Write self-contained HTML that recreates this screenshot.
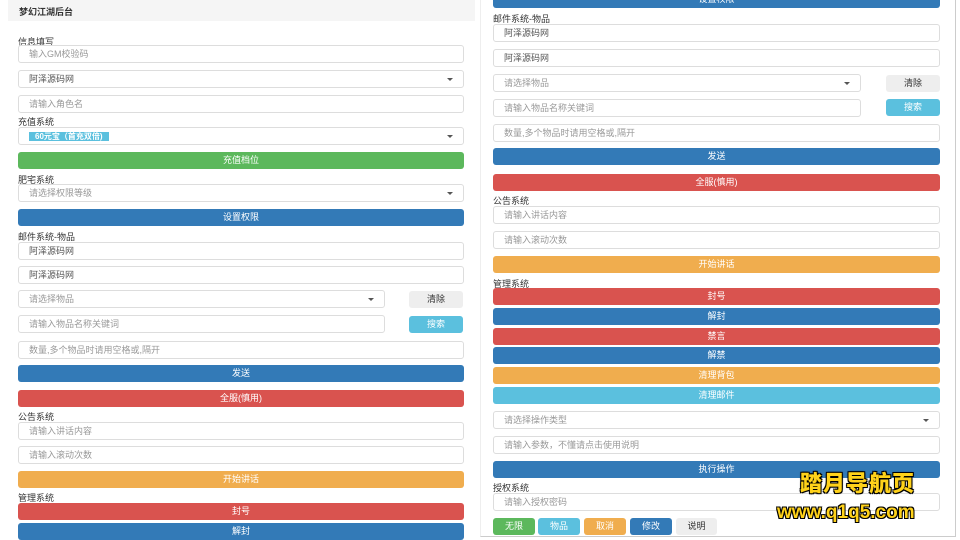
<!DOCTYPE html>
<html><head><meta charset="utf-8"><style>
body{margin:0;width:960px;height:540px;overflow:hidden;background:#fff;font-family:"Liberation Sans","Noto Sans CJK SC",sans-serif;position:relative}
.a{position:absolute;box-sizing:border-box}
.in{border:1px solid #ddd;border-radius:3px;height:18px;font-size:9px;color:#999;padding-left:10px;line-height:16px;background:#fff}
.in.v{color:#555}
.sel:after{content:"";position:absolute;right:10px;top:7px;border:3px solid transparent;border-top:3px solid #555}
.lb{font-size:9px;color:#333;height:12px;line-height:12px}
.b{height:17px;border-radius:3px;color:#fff;font-size:9px;text-align:center;line-height:17px}
.g{background:#5cb85c}.bl{background:#337ab7}.r{background:#d9534f}.o{background:#f0ad4e}.c{background:#5bc0de}.gr{background:#eee;color:#333}
</style></head><body>
<div class="a" style="left:8px;top:0;width:467px;height:21px;background:#f5f5f5;font-size:9px;font-weight:bold;color:#333;padding-left:11px;line-height:24px">梦幻江湖后台</div>

<div class="a lb" style="left:18px;top:36px">信息填写</div>
<div class="a in" style="left:18px;top:45px;width:446px">输入GM校验码</div>
<div class="a in v sel" style="left:18px;top:70px;width:446px">阿泽源码网</div>
<div class="a in" style="left:18px;top:95px;width:446px">请输入角色名</div>
<div class="a lb" style="left:18px;top:116px">充值系统</div>
<div class="a in sel" style="left:18px;top:127px;width:446px"><span style="background:#5bc0de;color:#fff;padding:0 6px;font-size:8px;font-weight:bold">60元宝（首充双倍)</span></div>
<div class="a b g" style="left:18px;top:152px;width:446px">充值档位</div>
<div class="a lb" style="left:18px;top:174px">肥宅系统</div>
<div class="a in sel" style="left:18px;top:184px;width:446px">请选择权限等级</div>
<div class="a b bl" style="left:18px;top:209px;width:446px">设置权限</div>
<div class="a lb" style="left:18px;top:231px">邮件系统-物品</div>
<div class="a in v" style="left:18px;top:242px;width:446px">阿泽源码网</div>
<div class="a in v" style="left:18px;top:266px;width:446px">阿泽源码网</div>
<div class="a in sel" style="left:18px;top:290px;width:367px">请选择物品</div>
<div class="a b gr" style="left:409px;top:291px;width:54px">清除</div>
<div class="a in" style="left:18px;top:315px;width:367px">请输入物品名称关键词</div>
<div class="a b c" style="left:409px;top:316px;width:54px">搜索</div>
<div class="a in" style="left:18px;top:341px;width:446px">数量,多个物品时请用空格或,隔开</div>
<div class="a b bl" style="left:18px;top:365px;width:446px">发送</div>
<div class="a b r" style="left:18px;top:390px;width:446px">全服(慎用)</div>
<div class="a lb" style="left:18px;top:411px">公告系统</div>
<div class="a in" style="left:18px;top:422px;width:446px">请输入讲话内容</div>
<div class="a in" style="left:18px;top:446px;width:446px">请输入滚动次数</div>
<div class="a b o" style="left:18px;top:471px;width:446px">开始讲话</div>
<div class="a lb" style="left:18px;top:492px">管理系统</div>
<div class="a b r" style="left:18px;top:503px;width:446px">封号</div>
<div class="a b bl" style="left:18px;top:523px;width:446px">解封</div>

<div class="a" style="left:480px;top:0;width:476px;height:537px;border-right:1px solid #ccc;border-bottom:1px solid #ccc;border-left:1px solid #eee"></div>
<div class="a b bl" style="left:493px;top:-9px;width:447px">设置权限</div>
<div class="a lb" style="left:493px;top:13px">邮件系统-物品</div>
<div class="a in v" style="left:493px;top:24px;width:447px">阿泽源码网</div>
<div class="a in v" style="left:493px;top:49px;width:447px">阿泽源码网</div>
<div class="a in sel" style="left:493px;top:74px;width:368px">请选择物品</div>
<div class="a b gr" style="left:886px;top:75px;width:54px">清除</div>
<div class="a in" style="left:493px;top:99px;width:368px">请输入物品名称关键词</div>
<div class="a b c" style="left:886px;top:99px;width:54px">搜索</div>
<div class="a in" style="left:493px;top:124px;width:447px">数量,多个物品时请用空格或,隔开</div>
<div class="a b bl" style="left:493px;top:148px;width:447px">发送</div>
<div class="a b r" style="left:493px;top:174px;width:447px">全服(慎用)</div>
<div class="a lb" style="left:493px;top:195px">公告系统</div>
<div class="a in" style="left:493px;top:206px;width:447px">请输入讲话内容</div>
<div class="a in" style="left:493px;top:231px;width:447px">请输入滚动次数</div>
<div class="a b o" style="left:493px;top:256px;width:447px">开始讲话</div>
<div class="a lb" style="left:493px;top:278px">管理系统</div>
<div class="a b r" style="left:493px;top:288px;width:447px">封号</div>
<div class="a b bl" style="left:493px;top:308px;width:447px">解封</div>
<div class="a b r" style="left:493px;top:328px;width:447px">禁言</div>
<div class="a b bl" style="left:493px;top:347px;width:447px">解禁</div>
<div class="a b o" style="left:493px;top:367px;width:447px">清理背包</div>
<div class="a b c" style="left:493px;top:387px;width:447px">清理邮件</div>
<div class="a in sel" style="left:493px;top:411px;width:447px">请选择操作类型</div>
<div class="a in" style="left:493px;top:436px;width:447px">请输入参数，不懂请点击使用说明</div>
<div class="a b bl" style="left:493px;top:461px;width:447px">执行操作</div>
<div class="a lb" style="left:493px;top:482px">授权系统</div>
<div class="a in" style="left:493px;top:493px;width:447px">请输入授权密码</div>
<div class="a b g" style="left:493px;top:518px;width:42px">无限</div>
<div class="a b c" style="left:538px;top:518px;width:42px">物品</div>
<div class="a b o" style="left:584px;top:518px;width:42px">取消</div>
<div class="a b bl" style="left:630px;top:518px;width:42px">修改</div>
<div class="a b gr" style="left:676px;top:518px;width:41px">说明</div>

<div class="a" style="left:800px;top:466px;width:130px;font-size:22px;font-weight:900;color:#ffd21a;text-shadow:0 0 2px #000,1px 1px 0 #000,-1px -1px 0 #000,1px -1px 0 #000,-1px 1px 0 #000;letter-spacing:1px">踏月导航页</div>
<div class="a" style="left:777px;top:502px;width:170px;font-size:19px;font-weight:900;color:#ffd21a;text-shadow:1px 1px 0 #000,-1px -1px 0 #000,1px -1px 0 #000,-1px 1px 0 #000">www.q1q5.com</div>
</body></html>
